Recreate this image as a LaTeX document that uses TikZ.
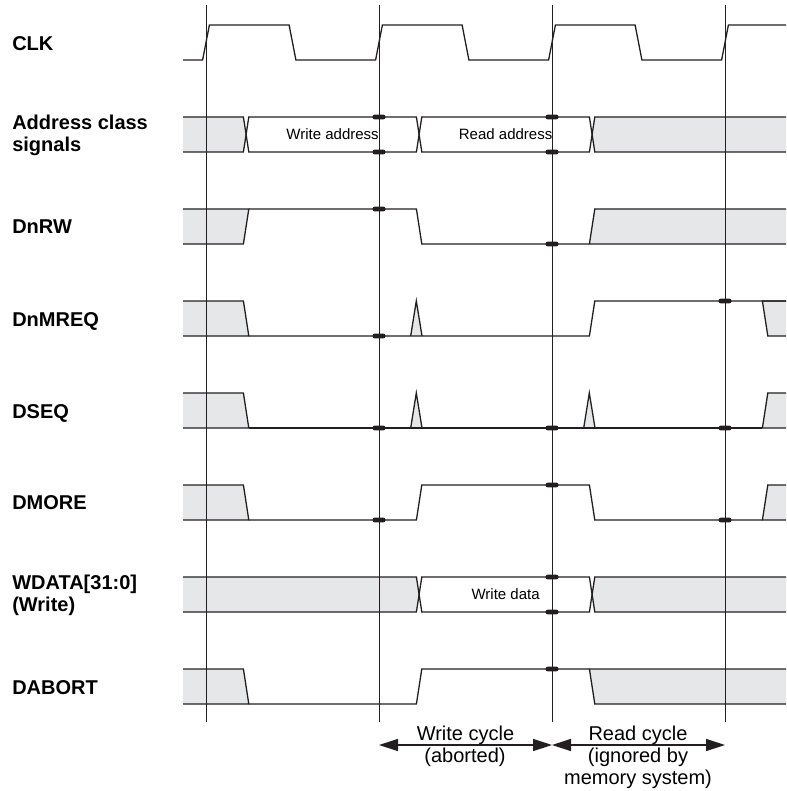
\documentclass[tikz,border=0pt]{standalone}
\usepackage{fontspec}
\setmainfont{Liberation Sans}
\usetikzlibrary{arrows.meta}
\newlength{\du}
\setlength{\du}{15\unitlength}
\definecolor{dialinecolor}{rgb}{0.137000, 0.122000, 0.125000}
\definecolor{dialinefill}{rgb}{0.902000, 0.906000, 0.910000}

\begin{document}
\begin{tikzpicture}[
  wire/.style={draw=dialinecolor, line width=0.065\du, line join=miter},
  unknown/.style={fill=dialinefill, draw=dialinecolor, line width=0.065\du, line join=miter},
  clockline/.style={draw=dialinecolor, line width=0.05\du},
  holdpt/.style={fill=dialinecolor, rounded corners=0.12\du},
  cycarrow/.style={draw=dialinecolor, line width=0.065\du,
    {Triangle[length=14.25pt,width=9pt]}-{Triangle[length=14.25pt,width=9pt]}},
  siglabel/.style={anchor=base west, inner sep=0pt, font=\fontsize{15}{17}\selectfont\bfseries},
  buslabel/.style={inner sep=0pt, font=\fontsize{11.25}{13}\selectfont},
  cyctext/.style={anchor=base, inner sep=0pt, font=\fontsize{15}{17}\selectfont}]
\pgftransformxscale{1.000000}
\pgftransformyscale{-1.000000}
\useasboundingbox (0.000000\du,0.000000\du) rectangle (39.300000\du,39.550000\du);
\pgfsetbuttcap
\pgfsetmiterjoin
% signal names
\node[siglabel] (clk) at (0.600000\du,2.525000\du){CLK};
\node[siglabel] (addr) at (0.600000\du,6.500000\du){Address class};
\node[siglabel] (addrb) at (0.600000\du,7.600000\du){signals};
\node[siglabel] (dnrw) at (0.600000\du,11.695000\du){DnRW};
\node[siglabel] (dnmreq) at (0.600000\du,16.325000\du){DnMREQ};
\node[siglabel] (dseq) at (0.600000\du,20.945000\du){DSEQ};
\node[siglabel] (dmore) at (0.600000\du,25.495000\du){DMORE};
\node[siglabel] (wdata) at (0.600000\du,29.450000\du){WDATA[31:0]};
\node[siglabel] (wdatab) at (0.600000\du,30.550000\du){(Write)};
\node[siglabel] (dabort) at (0.600000\du,34.745000\du){DABORT};
% CLK
\draw[wire] (9.150000\du,3.000000\du)--(10.130000\du,3.000000\du)--(10.470000\du,1.250000\du)--(14.455000\du,1.250000\du)--(14.795000\du,3.000000\du)--(18.780000\du,3.000000\du)--(19.120000\du,1.250000\du)--(23.105000\du,1.250000\du)--(23.445000\du,3.000000\du)--(27.430000\du,3.000000\du)--(27.770000\du,1.250000\du)--(31.755000\du,1.250000\du)--(32.095000\du,3.000000\du)--(36.080000\du,3.000000\du)--(36.420000\du,1.250000\du)--(39.300000\du,1.250000\du);
% Address class signals
\fill[dialinefill] (9.150000\du,5.850000\du)--(12.170000\du,5.850000\du)--(12.305000\du,6.725000\du)--(12.170000\du,7.600000\du)--(9.150000\du,7.600000\du)--cycle;
\fill[dialinefill] (39.300000\du,5.850000\du)--(29.740000\du,5.850000\du)--(29.605000\du,6.725000\du)--(29.740000\du,7.600000\du)--(39.300000\du,7.600000\du)--cycle;
\draw[wire] (9.150000\du,5.850000\du)--(12.170000\du,5.850000\du)--(12.440000\du,7.600000\du)--(20.820000\du,7.600000\du)--(21.090000\du,5.850000\du)--(29.470000\du,5.850000\du)--(29.740000\du,7.600000\du)--(39.300000\du,7.600000\du);
\draw[wire] (9.150000\du,7.600000\du)--(12.170000\du,7.600000\du)--(12.440000\du,5.850000\du)--(20.820000\du,5.850000\du)--(21.090000\du,7.600000\du)--(29.470000\du,7.600000\du)--(29.740000\du,5.850000\du)--(39.300000\du,5.850000\du);
\node[buslabel] (wraddr) at (16.630000\du,6.725000\du){Write address};
\node[buslabel] (rdaddr) at (25.280000\du,6.725000\du){Read address};
% DnRW
\filldraw[unknown] (9.150000\du,10.450000\du)--(12.440000\du,10.450000\du)--(12.170000\du,12.200000\du)--(9.150000\du,12.200000\du);
\filldraw[unknown] (39.300000\du,10.450000\du)--(29.740000\du,10.450000\du)--(29.470000\du,12.200000\du)--(39.300000\du,12.200000\du);
\draw[wire] (12.440000\du,10.450000\du)--(20.820000\du,10.450000\du)--(21.090000\du,12.200000\du)--(29.470000\du,12.200000\du);
% DnMREQ
\filldraw[unknown] (9.150000\du,15.050000\du)--(12.170000\du,15.050000\du)--(12.440000\du,16.800000\du)--(9.150000\du,16.800000\du);
\filldraw[unknown] (20.535000\du,16.800000\du)--(20.815000\du,15.050000\du)--(21.100000\du,16.800000\du);
\filldraw[unknown] (39.300000\du,15.050000\du)--(38.120000\du,15.050000\du)--(38.390000\du,16.800000\du)--(39.300000\du,16.800000\du);
\draw[wire] (12.440000\du,16.800000\du)--(29.470000\du,16.800000\du)--(29.740000\du,15.050000\du)--(39.300000\du,15.050000\du);
% DSEQ
\filldraw[unknown] (9.150000\du,19.650000\du)--(12.170000\du,19.650000\du)--(12.440000\du,21.400000\du)--(9.150000\du,21.400000\du);
\filldraw[unknown] (20.535000\du,21.400000\du)--(20.815000\du,19.650000\du)--(21.100000\du,21.400000\du);
\filldraw[unknown] (29.185000\du,21.400000\du)--(29.465000\du,19.650000\du)--(29.750000\du,21.400000\du);
\filldraw[unknown] (39.300000\du,19.650000\du)--(38.390000\du,19.650000\du)--(38.120000\du,21.400000\du)--(39.300000\du,21.400000\du);
\draw[wire] (12.440000\du,21.400000\du)--(38.120000\du,21.400000\du);
% DMORE
\filldraw[unknown] (9.150000\du,24.250000\du)--(12.170000\du,24.250000\du)--(12.440000\du,26.000000\du)--(9.150000\du,26.000000\du);
\filldraw[unknown] (39.300000\du,24.250000\du)--(38.390000\du,24.250000\du)--(38.120000\du,26.000000\du)--(39.300000\du,26.000000\du);
\draw[wire] (12.440000\du,26.000000\du)--(20.820000\du,26.000000\du)--(21.090000\du,24.250000\du)--(29.470000\du,24.250000\du)--(29.740000\du,26.000000\du)--(38.120000\du,26.000000\du);
% WDATA[31:0]
\fill[dialinefill] (9.150000\du,28.850000\du)--(20.820000\du,28.850000\du)--(20.955000\du,29.725000\du)--(20.820000\du,30.600000\du)--(9.150000\du,30.600000\du)--cycle;
\fill[dialinefill] (39.300000\du,28.850000\du)--(29.740000\du,28.850000\du)--(29.605000\du,29.725000\du)--(29.740000\du,30.600000\du)--(39.300000\du,30.600000\du)--cycle;
\draw[wire] (9.150000\du,28.850000\du)--(20.820000\du,28.850000\du)--(21.090000\du,30.600000\du)--(29.470000\du,30.600000\du)--(29.740000\du,28.850000\du)--(39.300000\du,28.850000\du);
\draw[wire] (9.150000\du,30.600000\du)--(20.820000\du,30.600000\du)--(21.090000\du,28.850000\du)--(29.470000\du,28.850000\du)--(29.740000\du,30.600000\du)--(39.300000\du,30.600000\du);
\node[buslabel] (wrdata) at (25.280000\du,29.725000\du){Write data};
% DABORT
\filldraw[unknown] (9.150000\du,33.450000\du)--(12.170000\du,33.450000\du)--(12.440000\du,35.200000\du)--(9.150000\du,35.200000\du);
\filldraw[unknown] (39.300000\du,33.450000\du)--(29.470000\du,33.450000\du)--(29.740000\du,35.200000\du)--(39.300000\du,35.200000\du);
\draw[wire] (12.440000\du,35.200000\du)--(20.820000\du,35.200000\du)--(21.090000\du,33.450000\du)--(29.470000\du,33.450000\du);
% clock edges
\draw[clockline] (10.300000\du,0.250000\du)--(10.300000\du,36.100000\du);
\draw[clockline] (18.950000\du,0.250000\du)--(18.950000\du,36.100000\du);
\draw[clockline] (27.600000\du,0.250000\du)--(27.600000\du,36.100000\du);
\draw[clockline] (36.250000\du,0.250000\du)--(36.250000\du,36.100000\du);
% hold points
\fill[holdpt] (18.620000\du,5.730000\du) rectangle (19.280000\du,5.970000\du);
\fill[holdpt] (18.620000\du,7.480000\du) rectangle (19.280000\du,7.720000\du);
\fill[holdpt] (27.270000\du,5.730000\du) rectangle (27.930000\du,5.970000\du);
\fill[holdpt] (27.270000\du,7.480000\du) rectangle (27.930000\du,7.720000\du);
\fill[holdpt] (18.620000\du,10.330000\du) rectangle (19.280000\du,10.570000\du);
\fill[holdpt] (27.270000\du,12.080000\du) rectangle (27.930000\du,12.320000\du);
\fill[holdpt] (18.620000\du,16.680000\du) rectangle (19.280000\du,16.920000\du);
\fill[holdpt] (35.920000\du,14.930000\du) rectangle (36.580000\du,15.170000\du);
\fill[holdpt] (18.620000\du,21.280000\du) rectangle (19.280000\du,21.520000\du);
\fill[holdpt] (27.270000\du,21.280000\du) rectangle (27.930000\du,21.520000\du);
\fill[holdpt] (35.920000\du,21.280000\du) rectangle (36.580000\du,21.520000\du);
\fill[holdpt] (18.620000\du,25.880000\du) rectangle (19.280000\du,26.120000\du);
\fill[holdpt] (27.270000\du,24.130000\du) rectangle (27.930000\du,24.370000\du);
\fill[holdpt] (35.920000\du,25.880000\du) rectangle (36.580000\du,26.120000\du);
\fill[holdpt] (27.270000\du,28.730000\du) rectangle (27.930000\du,28.970000\du);
\fill[holdpt] (27.270000\du,30.480000\du) rectangle (27.930000\du,30.720000\du);
\fill[holdpt] (27.270000\du,33.330000\du) rectangle (27.930000\du,33.570000\du);
% cycles
\coordinate (cyc1) at (18.950000\du,37.250000\du);
\coordinate (cyc2) at (27.600000\du,37.250000\du);
\coordinate (cyc3) at (36.250000\du,37.250000\du);
\draw[cycarrow] (cyc1)--(cyc2);
\draw[cycarrow] (cyc2)--(cyc3);
\node[cyctext] (wrcyc) at (23.275000\du,37.000000\du){Write cycle};
\node[cyctext] (wrcycb) at (23.250000\du,38.135000\du){(aborted)};
\node[cyctext] (rdcyc) at (31.900000\du,37.000000\du){Read cycle};
\node[cyctext] (rdcycb) at (31.900000\du,38.135000\du){(ignored by};
\node[cyctext] (rdcycc) at (31.900000\du,39.240000\du){memory system)};
\end{tikzpicture}
\end{document}
